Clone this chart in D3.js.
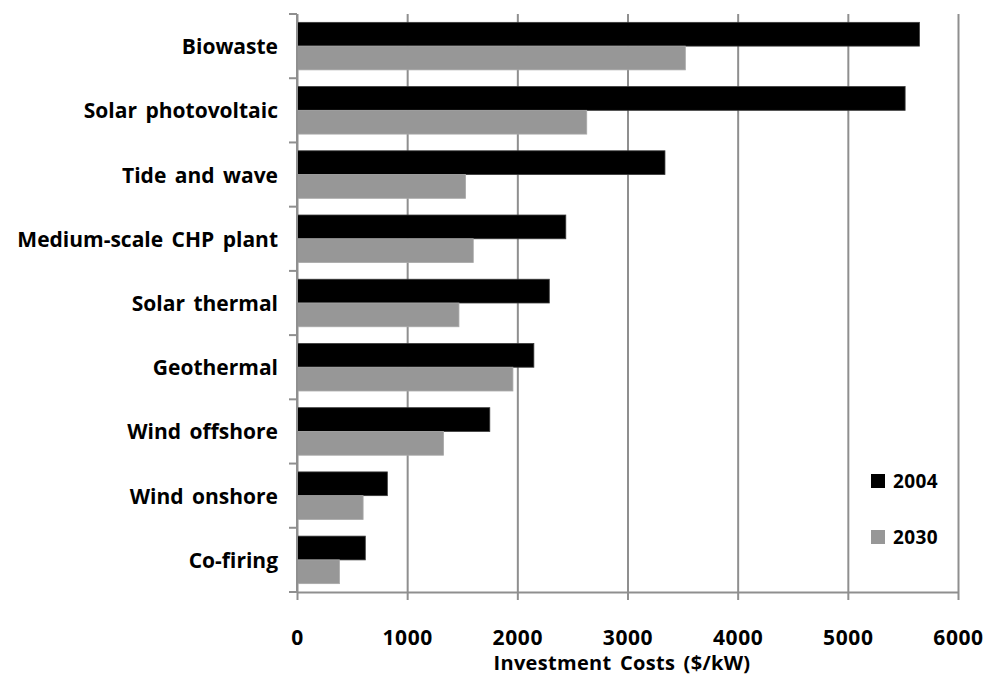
<!DOCTYPE html>
<html>
<head>
<meta charset="utf-8">
<script src="https://cdn.jsdelivr.net/npm/d3@7"></script>
<style>
  html, body { margin: 0; padding: 0; background: #fff; }
  svg text { font-family: "Open Sans", Lato, sans-serif; font-weight: bold; fill: #000; }
</style>
</head>
<body>
<svg id="chart" width="995" height="682"></svg>
<script>
// Investment costs by technology, 2004 vs 2030 ($/kW)
const categories = ["Biowaste", "Solar photovoltaic", "Tide and wave", "Medium-scale CHP plant",
  "Solar thermal", "Geothermal", "Wind offshore", "Wind onshore", "Co-firing"];
const seriesNames = ["2004", "2030"];
const values2004 = [5650, 5520, 3340, 2440, 2290, 2150, 1750, 820, 620];
const values2030 = [3525, 2630, 1530, 1600, 1470, 1960, 1330, 600, 385];
const xTicks = [0, 1000, 2000, 3000, 4000, 5000, 6000];
const xTitle = "Investment Costs ($/kW)";

const colors = { "2004": "#000000", "2030": "#979797" };
const strokes = { "2004": "#3a3a3a", "2030": "#a8a8a8" };
const gridColor = "#8f8f8f";
const fontSize = 21;

const margin = { left: 297, right: 37, top: 14, bottom: 90 };
const W = 995, H = 682;
const svg = d3.select("#chart");

const x = d3.scaleLinear().domain([0, 6000]).range([margin.left, W - margin.right]);
const y = d3.scaleBand().domain(categories).range([margin.top, H - margin.bottom]).paddingInner(0.26).paddingOuter(0.13);
const yBand = d3.scaleBand().domain(categories).range([margin.top, H - margin.bottom]);
const ySub = d3.scaleBand().domain(seriesNames).range([0, y.bandwidth()]);

const rows = categories.map((c, i) => ({ cat: c, vals: [
  { key: "2004", v: values2004[i] }, { key: "2030", v: values2030[i] }] }));

// vertical gridlines
svg.append("g")
  .attr("transform", `translate(0,${H - margin.bottom})`)
  .call(d3.axisBottom(x).tickValues(xTicks).tickSize(-(H - margin.bottom - margin.top)).tickSizeOuter(0).tickFormat(""))
  .call(g => g.select(".domain").remove())
  .call(g => g.selectAll(".tick line").attr("stroke", gridColor).attr("stroke-width", 2));

// bottom axis with ticks below the line
svg.append("g")
  .attr("transform", `translate(0,${H - margin.bottom})`)
  .call(d3.axisBottom(x).tickValues(xTicks).tickSize(8).tickSizeOuter(0).tickFormat(d3.format("d")).tickPadding(0))
  .call(g => g.select(".domain").attr("stroke", gridColor).attr("stroke-width", 2))
  .call(g => g.selectAll(".tick line").attr("stroke", gridColor).attr("stroke-width", 2))
  .call(g => g.selectAll(".tick text").attr("font-size", fontSize).attr("y", 53).attr("dy", null)
    .attr("letter-spacing", 0.6));

// bars
const groups = svg.append("g").selectAll("g").data(rows).join("g")
  .attr("transform", d => `translate(0,${y(d.cat)})`);
groups.selectAll("rect").data(d => d.vals).join("rect")
  .attr("x", x(0))
  .attr("y", d => ySub(d.key))
  .attr("width", d => x(d.v) - x(0))
  .attr("height", ySub.bandwidth())
  .attr("fill", d => colors[d.key])
  .attr("stroke", d => strokes[d.key])
  .attr("stroke-width", 0.8);

// y axis with ticks at category boundaries
const yAxis = svg.append("g").attr("transform", `translate(${x(0)},0)`);
yAxis.append("line")
  .attr("x1", 0).attr("x2", 0).attr("y1", margin.top).attr("y2", H - margin.bottom)
  .attr("stroke", gridColor).attr("stroke-width", 2);
const boundaries = categories.map(c => yBand(c)).concat([H - margin.bottom]);
yAxis.selectAll(".ytick").data(boundaries).join("line")
  .attr("x1", -8).attr("x2", 0).attr("y1", d => d).attr("y2", d => d)
  .attr("stroke", gridColor).attr("stroke-width", 2);
yAxis.selectAll(".ylab").data(categories).join("text")
  .attr("x", -19)
  .attr("y", d => yBand(d) + yBand.bandwidth() / 2 + 8)
  .attr("text-anchor", "end")
  .attr("font-size", fontSize)
  .attr("word-spacing", 3)
  .text(d => d);

// axis title
svg.append("text")
  .attr("x", 622)
  .attr("y", 670)
  .attr("text-anchor", "middle")
  .attr("font-size", 20)
  .attr("letter-spacing", 0.3)
  .attr("word-spacing", 3)
  .text(xTitle);

// legend
const legend = svg.append("g").attr("transform", "translate(871,474)");
seriesNames.forEach((s, i) => {
  const g = legend.append("g").attr("transform", `translate(0,${i * 56})`);
  g.append("rect").attr("width", 14).attr("height", 14).attr("fill", colors[s]);
  g.append("text").attr("x", 22).attr("y", 14).attr("font-size", 19).attr("letter-spacing", 0.4).text(s);
});
</script>
</body>
</html>
